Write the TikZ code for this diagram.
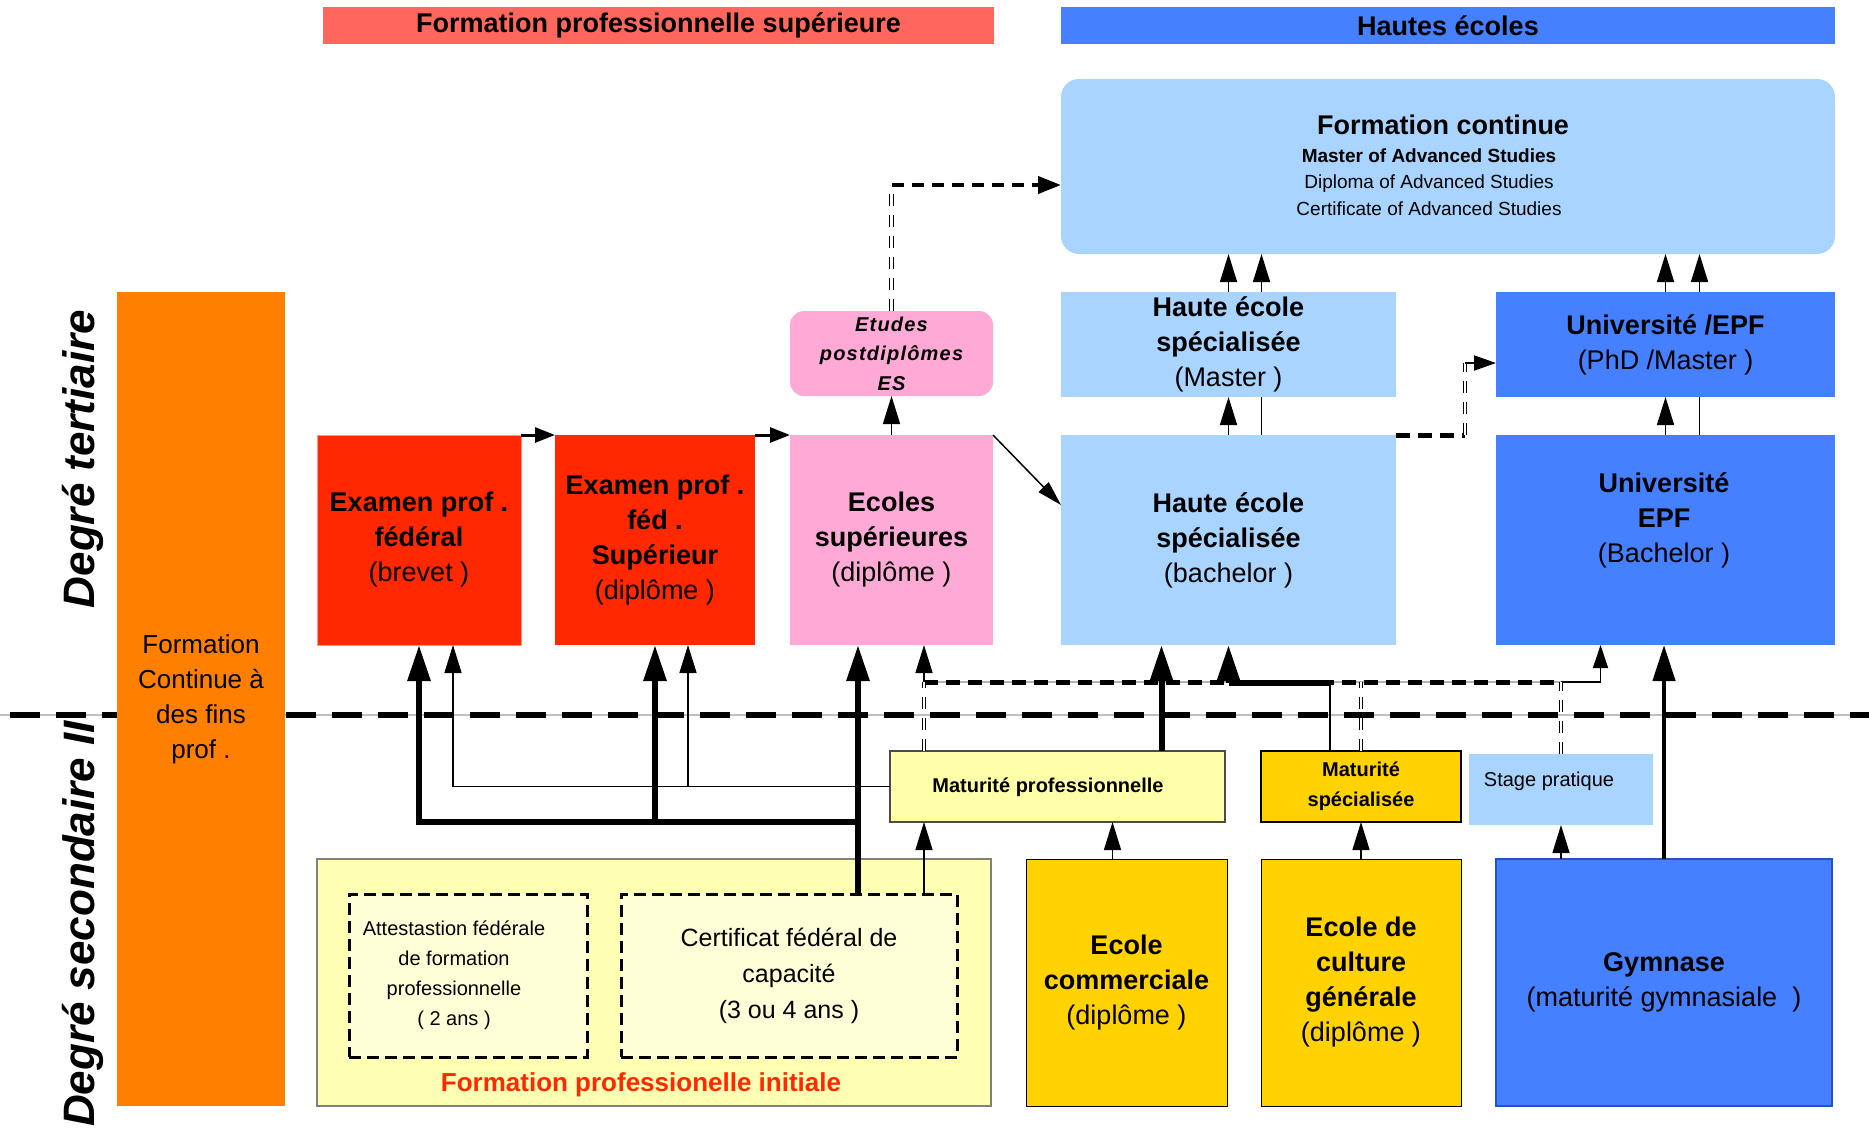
\documentclass[tikz,border=0pt]{standalone}
\usepackage{fontspec}
\setmainfont{Liberation Sans}
\usetikzlibrary{arrows.meta}
\definecolor{cRedHdr}{RGB}{255,102,94}
\definecolor{cBlue}{RGB}{68,128,255}
\definecolor{cBlueDark}{RGB}{40,80,190}
\definecolor{cLight}{RGB}{168,212,255}
\definecolor{cRed}{RGB}{255,40,0}
\definecolor{cRedLine}{RGB}{255,150,130}
\definecolor{cPink}{RGB}{255,170,214}
\definecolor{cOrange}{RGB}{255,128,0}
\definecolor{cGold}{RGB}{255,210,0}
\definecolor{cPaleY}{RGB}{255,255,170}
\definecolor{cFPI}{RGB}{255,255,180}
\definecolor{cInner}{RGB}{255,255,215}
\definecolor{cRedTxt}{RGB}{255,40,0}
\newcommand\lbfont{\fontsize{27}{35}\selectfont}
\tikzset{
 box/.style={rectangle, inner sep=0pt, outer sep=0pt, anchor=north west, align=center, font=\lbfont},
 lbl/.style={align=center, inner sep=0pt, font=\lbfont},
 tarr/.style={line width=1.5pt, -{Triangle[length=28pt,width=17pt]}},
 sarr/.style={line width=3pt, -{Triangle[length=20pt,width=15pt]}},
 karr/.style={line width=6pt, -{Triangle[length=36pt,width=22pt]}},
 marr/.style={line width=4.5pt, -{Triangle[length=36pt,width=22pt]}},
 kline/.style={line width=6pt},
 tline/.style={line width=1.5pt},
 hollow/.style={line width=1.2pt, double=white, double distance=2.5pt, dash pattern=on 12pt off 9pt},
 tdash/.style={line width=5pt, dash pattern=on 14pt off 8pt},
 dbox/.style={draw=black, line width=3pt, dash pattern=on 12pt off 6pt},
}
\begin{document}
\begin{tikzpicture}[x=1pt,y=-1pt]
\useasboundingbox (0,0) rectangle (1869,1136);
\fill[white] (0,0) rectangle (1869,1136);

% separator between degrees
\coordinate (L0) at (0,715);
\coordinate (L1) at (1869,715);
\draw[line width=2pt, gray!50] (L0) -- (L1);
\draw[line width=6pt, dash pattern=on 30pt off 16pt, dash phase=-10pt] (L0) -- (L1);

% side labels
\node[rotate=90, inner sep=0pt, font=\bfseries\itshape\fontsize{44}{50}\selectfont] (degt) at (83,459) {Degré tertiaire};
\node[rotate=90, inner sep=0pt, font=\bfseries\itshape\fontsize{44}{50}\selectfont] (degs) at (83,924) {Degré secondaire II};

% headers
\node[box, fill=cRedHdr, minimum width=671pt, minimum height=37pt, font=\bfseries\fontsize{27}{30}\selectfont] (hdrfps) at (323,7) {Formation professionnelle supérieure};
\node[box, fill=cBlue, minimum width=774pt, minimum height=37pt, font=\bfseries\fontsize{27}{30}\selectfont] (hdrhe) at (1061,7) {Hautes écoles};

% formation continue
\node[box, fill=cLight, rounded corners=18pt, minimum width=774pt, minimum height=175pt] (fc) at (1061,79) {};
\node[inner sep=0pt, font=\bfseries\fontsize{27}{30}\selectfont] (fct) at (1443,125) {Formation continue};
\node[align=center, inner sep=0pt, font=\fontsize{19}{26.5}\selectfont] (fcs) at (1429,182) {\textbf{Master of Advanced Studies}\\Diploma of Advanced Studies\\Certificate of Advanced Studies};

% tertiary boxes
\node[box, fill=cLight, minimum width=335pt, minimum height=105pt] (hesm) at (1061,292) {\textbf{Haute école}\\\textbf{spécialisée}\\(Master )};
\node[box, fill=cBlue, minimum width=339pt, minimum height=105pt] (unim) at (1496,292) {\textbf{Université /EPF}\\(PhD /Master )};
\node[box, fill=cPink, rounded corners=14pt, minimum width=203pt, minimum height=85pt, font=\bfseries\itshape\fontsize{20}{29.5}\selectfont\addfontfeatures{LetterSpace=6}] (etudes) at (790,311) {Etudes\\postdiplômes\\ES};
\node[box, fill=cRed, draw=cRedLine, line width=1pt, minimum width=204pt, minimum height=210pt] (red1) at (317,435) {\textbf{Examen prof .}\\\textbf{fédéral}\\(brevet )};
\node[box, fill=cRed, minimum width=200pt, minimum height=210pt] (red2) at (555,435) {\textbf{Examen prof .}\\\textbf{féd .}\\\textbf{Supérieur}\\(diplôme )};
\node[box, fill=cPink, minimum width=203pt, minimum height=210pt] (ecoles) at (790,435) {\textbf{Ecoles}\\\textbf{supérieures}\\(diplôme )};
\node[box, fill=cLight, minimum width=335pt, minimum height=210pt] (hesb) at (1061,435) {\textbf{Haute école}\\\textbf{spécialisée}\\(bachelor )};
\node[box, fill=cBlue, minimum width=339pt, minimum height=210pt] (unib) at (1496,435) {};
\node[lbl] (unibt) at (1664,520) {\textbf{Université}\\\textbf{EPF}\\(Bachelor )};

% orange
\node[box, fill=cOrange, minimum width=168pt, minimum height=814pt, font=\fontsize{26}{35}\selectfont] (orange) at (117,292) {Formation\\Continue à\\des fins\\prof .};

% secondary boxes
\node[box, fill=cPaleY, draw=gray!60!black, line width=1.2pt, minimum width=335pt, minimum height=71pt] (matpro) at (890,751) {};
\node[inner sep=0pt, font=\bfseries\fontsize{20}{24}\selectfont] (matprot) at (1048,787) {Maturité professionnelle};
\node[box, fill=cGold, draw=black, line width=1.2pt, minimum width=200pt, minimum height=71pt, font=\bfseries\fontsize{20}{30}\selectfont] (matspec) at (1261,751) {Maturité\\spécialisée};
\node[box, fill=cLight, minimum width=184pt, minimum height=71pt] (stage) at (1469,754) {};
\node[inner sep=0pt, font=\fontsize{20}{24}\selectfont] (staget) at (1549,781) {Stage pratique};

\node[box, fill=cFPI, draw=gray, line width=1.5pt, minimum width=674pt, minimum height=247pt] (fpi) at (317,859) {};
\node[box, fill=cInner, dbox, minimum width=238pt, minimum height=163pt] (attest) at (349,894) {};
\node[align=center, inner sep=0pt, font=\fontsize{20}{30}\selectfont] (attt) at (454,975) {Attestastion fédérale\\de formation\\professionnelle\\( 2 ans )};
\node[box, fill=cInner, dbox, minimum width=336pt, minimum height=163pt, font=\fontsize{25}{36}\selectfont] (cfc) at (621,894) {Certificat fédéral de\\capacité\\(3 ou 4 ans )};
\node[inner sep=0pt, text=cRedTxt, font=\bfseries\fontsize{26}{30}\selectfont] (fpit) at (641,1085) {Formation professionelle initiale};

\node[box, fill=cGold, draw=black, line width=1pt, minimum width=201pt, minimum height=247pt] (ecom) at (1026,859) {\textbf{Ecole}\\\textbf{commerciale}\\(diplôme )};
\node[box, fill=cGold, draw=black, line width=1pt, minimum width=200pt, minimum height=247pt] (ecg) at (1261,859) {\textbf{Ecole de}\\\textbf{culture}\\\textbf{générale}\\(diplôme )};
\node[box, fill=cBlue, draw=cBlueDark, line width=1.2pt, minimum width=336pt, minimum height=247pt] (gym) at (1496,859) {\textbf{Gymnase}\\(maturité gymnasiale \ )};

% ---- connectors, tertiary
\draw[sarr] (red1.north east) -- (red2.north west);
\draw[sarr] (red2.north east) -- (ecoles.north west);
\draw[tarr] (ecoles.north) -- (etudes.south);
\coordinate (c1) at (889,185);
\draw[hollow] (etudes.north) -- (etudes.north |- c1);
\draw[line width=4pt, dash pattern=on 12pt off 8pt, -{Triangle[length=23pt,width=17pt]}] (etudes.north |- c1) -- (c1 -| fc.west);
\draw[tline, -{Triangle[length=25pt,width=14pt]}] (ecoles.north east) -- ([yshift=-70pt]hesb.north west);

\draw[tarr] (hesb.north) -- (hesm.south);
\draw[tline] ([xshift=33pt]hesb.north) -- ([xshift=33pt]hesm.south);
\draw[tarr] (hesm.north) -- (hesm.north |- fc.south);
\coordinate (h2) at ([xshift=33pt]hesm.north);
\draw[tarr] (h2) -- (h2 |- fc.south);

\draw[tarr] (unib.north) -- (unim.south);
\draw[tline] ([xshift=34pt]unib.north) -- ([xshift=34pt]unim.south);
\draw[tarr] (unim.north) -- (unim.north |- fc.south);
\coordinate (u2) at ([xshift=34pt]unim.north);
\draw[tarr] (u2) -- (u2 |- fc.south);

\coordinate (c2) at (1465,435);
\coordinate (c3) at (1465,363);
\draw[tdash] (hesb.north east) -- (c2);
\draw[hollow] (c2) -- (c3);
\draw[line width=2pt, -{Triangle[length=22pt,width=15pt]}] (c3) -- (c3 -| unim.west);

% ---- connectors, secondary -> tertiary
\coordinate (dly) at (0,682);
\coordinate (ky) at (0,683);
\coordinate (mxn) at ([xshift=34pt]matpro.north west);
\coordinate (d2) at (stage.north |- dly);
\draw[line width=1.5pt, gray!60] (mxn |- dly) -- (d2);
\draw[tdash] (mxn |- dly) -- (d2);
\coordinate (u1) at ([xshift=-65pt]unib.south);
\draw[line width=1.5pt, -{Triangle[length=23pt,width=15pt]}] (d2) -| (u1);
\draw[hollow] (mxn) -- (mxn |- dly);
\draw[tarr] (mxn |- dly) -- (mxn |- ecoles.south);
\draw[hollow] (matspec.north) -- (matspec.north |- dly);
\draw[hollow] (stage.north) -- (d2);

\coordinate (r1s) at ([xshift=34pt]red1.south);
\coordinate (r2s) at ([xshift=33pt]red2.south);
\draw[tarr] (matpro.west) -| (r1s);
\draw[tarr] (r2s |- matpro.west) -- (r2s);

\coordinate (j1) at (858,822);
\draw[karr] (j1) -| (red1.south);
\draw[karr] (j1 -| red2.south) -- (red2.south);
\draw[karr] (j1 |- cfc.north) -- (j1 |- ecoles.south);

\coordinate (mx) at ([xshift=34pt]matpro.south west);
\draw[tarr] (mx |- cfc.north) -- (mx);

\coordinate (mp) at ([xshift=104pt]matpro.north);
\draw[karr] (mp) -- (mp |- hesb.south);

\coordinate (ms) at ([xshift=-31pt]matspec.north);
\draw[tline] (ms) -- (ms |- ky);
\draw[kline] (ms |- ky) -- (hesb.south |- ky);
\draw[karr] (hesb.south |- ky) -- (hesb.south);

\draw[marr] (gym.north) -- (gym.north |- unib.south);
\coordinate (ec) at ([xshift=-14pt]ecom.north);
\draw[tarr] (ec) -- (ec |- matpro.south);
\draw[tarr] (ecg.north) -- (matspec.south);
\draw[tarr] (stage.south |- gym.north) -- (stage.south);
\end{tikzpicture}
\end{document}
